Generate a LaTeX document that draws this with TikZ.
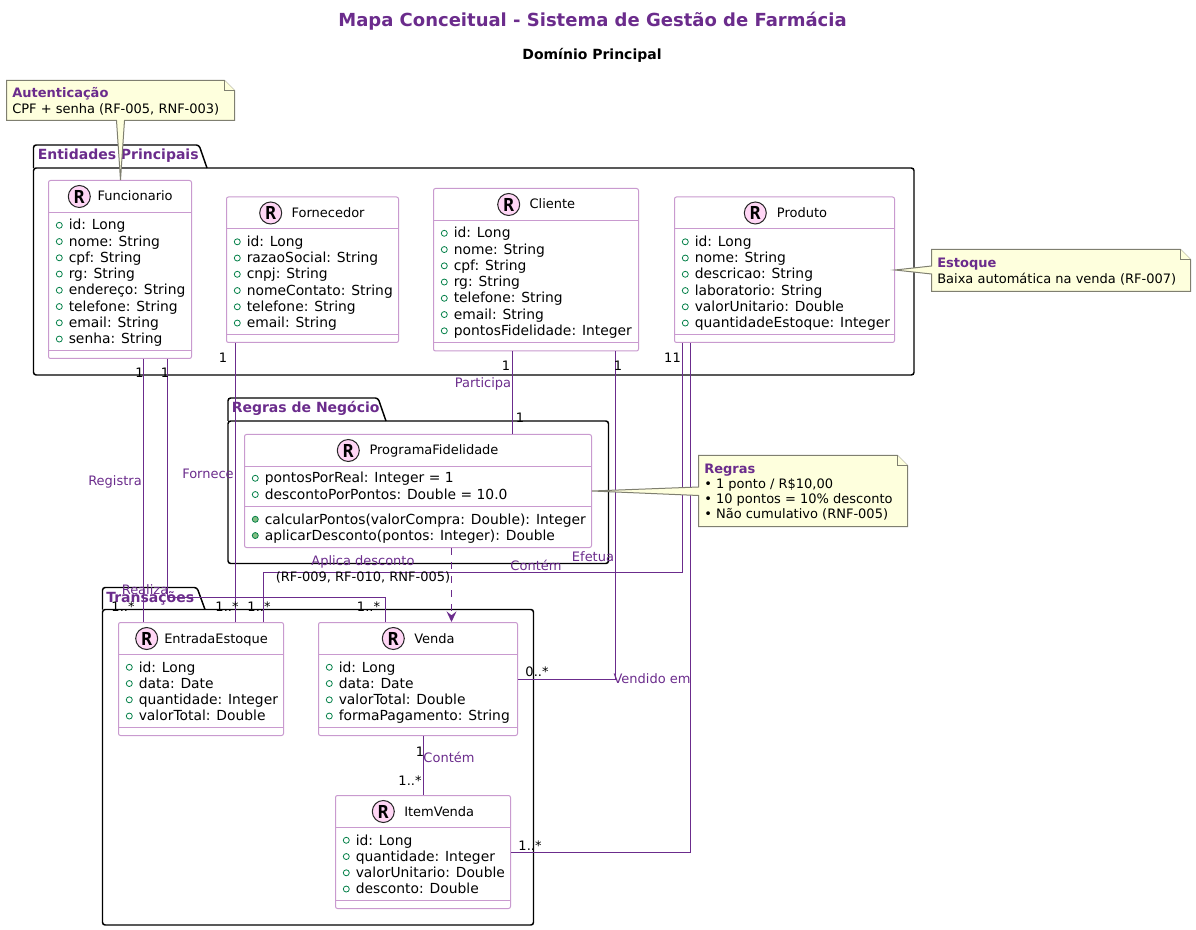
\documentclass[tikz,border=0pt]{standalone}
\usepackage{fontspec}
\setmainfont{DejaVu Sans}
\newfontfamily\iconfont{DejaVu Sans Mono}
\usetikzlibrary{arrows.meta,calc,fit}
\definecolor{umlpurple}{HTML}{6B2C8C}
\definecolor{umlborder}{HTML}{C99ACF}
\definecolor{umlpink}{HTML}{FFD6F5}
\definecolor{umlgreen}{HTML}{038048}
\definecolor{umlmethod}{HTML}{84BE84}
\definecolor{umlnote}{HTML}{FEFFDD}
\definecolor{umlnoteline}{HTML}{7F7F70}
\tikzset{
    classbox/.style={draw=umlborder,fill=white,line width=0.75pt,rounded corners=1.5pt,inner sep=0pt},
    classline/.style={draw=umlborder,line width=0.75pt},
    classicon/.style={circle,draw=black!85,fill=umlpink,line width=0.75pt,minimum size=16.5pt,inner sep=0pt,font=\fontsize{13.4}{13.4}\selectfont\iconfont\bfseries},
    classname/.style={anchor=base west,inner sep=0pt,font=\fontsize{9.75}{11}\selectfont},
    membertext/.style={anchor=base west,inner sep=0pt,font=\fontsize{10.4}{12}\selectfont},
    fieldicon/.style={circle,draw=umlgreen,fill=white,line width=0.6pt,minimum size=4.5pt,inner sep=0pt},
    methodicon/.style={circle,draw=umlgreen,fill=umlmethod,line width=0.6pt,minimum size=4.5pt,inner sep=0pt},
    pkgbox/.style={draw=black,line width=1.1pt,rounded corners=2pt,inner sep=0pt},
    pkgtab/.style={draw=black,line width=1.1pt,rounded corners=2pt},
    pkgname/.style={anchor=base west,inner sep=0pt,text=umlpurple,font=\fontsize{10.5}{12}\selectfont\bfseries},
    rel/.style={draw=umlpurple,line width=0.75pt},
    rellabel/.style={anchor=center,inner sep=0pt,text=umlpurple,font=\fontsize{9.75}{11}\selectfont},
    card/.style={anchor=base,inner sep=0pt,font=\fontsize{9.75}{11}\selectfont},
    noteline/.style={draw=umlnoteline,fill=umlnote,line width=0.75pt},
    notehead/.style={anchor=base west,inner sep=0pt,text=umlpurple,font=\fontsize{9.75}{11}\selectfont\bfseries},
    notetext/.style={anchor=base west,inner sep=0pt,font=\fontsize{9.75}{11}\selectfont},
}
% id, name, icon x, name x, left, top, right, bottom
\newcommand{\umlhead}[8]{%
    \node (#1) [classbox,fit={(#5,#6) (#7,#8)}] {};
    \node (#1-icon) [classicon] at (#3,{#6+16}) {R};
    \node (#1-name) [classname] at (#4,{#6+20.5}) {#2};
    \draw[classline] (#5,{#6+32}) -- (#7,{#6+32});
}
% id, left, first base line, icon style, members
\newcommand{\umlmembers}[5]{%
    \foreach \m [count=\i from 0] in {#5} {
        \pgfmathsetmacro{\ybase}{#3+\i*16.25}
        \node (#1-icon-#4-\i) [#4] at ({#2+10.8},\ybase-4.7) {};
        \node (#1-text-#4-\i) [membertext] at ({#2+20},\ybase) {\m};
    }
}
\begin{document}
\begin{tikzpicture}[x=0.75pt,y=-0.75pt]
\useasboundingbox (0,0) rectangle (1196,930);

\node (title) [inner sep=0pt,text=umlpurple,font=\fontsize{13.5}{16}\selectfont\bfseries] at (592.5,21) {Mapa Conceitual - Sistema de Gestão de Farmácia};
\node (subtitle) [inner sep=0pt,font=\fontsize{10.5}{12}\selectfont\bfseries] at (592,55) {Domínio Principal};

% packages
\node (pkgEntidades) [pkgbox,fit={(33.5,168) (914,375)}] {};
\draw[pkgtab] (33.5,168) -- (33.5,145) -- (199,145) -- (207,168);
\node (pkgEntidades-name) [pkgname] at (37.5,160) {Entidades Principais};
\node (pkgRegras) [pkgbox,fit={(228,421) (608.5,563.5)}] {};
\draw[pkgtab] (228,421) -- (228,398) -- (378,398) -- (386,421);
\node (pkgRegras-name) [pkgname] at (231.5,413) {Regras de Negócio};
\node (pkgTransacoes) [pkgbox,fit={(102.5,609.5) (533.5,925)}] {};
\draw[pkgtab] (102.5,609.5) -- (102.5,587.5) -- (197,587.5) -- (205,609.5);

% classes
\umlhead{funcionario}{Funcionario}{79.3}{97.3}{48.5}{180.5}{191.5}{358.5}
\umlmembers{funcionario}{48.5}{230}{fieldicon}{id: Long,nome: String,cpf: String,rg: String,endereço: String,telefone: String,email: String,senha: String}
\draw[classline] (48.5,351) -- (191.5,351);

\umlhead{fornecedor}{Fornecedor}{270.7}{291.3}{226.5}{197}{398.5}{342.5}
\umlmembers{fornecedor}{226.5}{246.5}{fieldicon}{id: Long,razaoSocial: String,cnpj: String,nomeContato: String,telefone: String,email: String}
\draw[classline] (226.5,334.5) -- (398.5,334.5);

\umlhead{cliente}{Cliente}{508.7}{529.3}{433.5}{188.5}{638.5}{351}
\umlmembers{cliente}{433.5}{238}{fieldicon}{id: Long,nome: String,cpf: String,rg: String,telefone: String,email: String,pontosFidelidade: Integer}
\draw[classline] (433.5,343) -- (638.5,343);

\umlhead{produto}{Produto}{755.3}{776.7}{674.5}{197}{894.5}{342.5}
\umlmembers{produto}{674.5}{246.5}{fieldicon}{id: Long,nome: String,descricao: String,laboratorio: String,valorUnitario: Double,quantidadeEstoque: Integer}
\draw[classline] (674.5,334.5) -- (894.5,334.5);

\umlhead{fidelidade}{ProgramaFidelidade}{348.3}{369.3}{244.5}{434.5}{591.5}{547.5}
\umlmembers{fidelidade}{244.5}{483}{fieldicon}{pontosPorReal: Integer = 1,descontoPorPontos: Double = 10.0}
\draw[classline] (244.5,506.5) -- (591.5,506.5);
\umlmembers{fidelidade}{244.5}{524}{methodicon}{calcularPontos(valorCompra: Double): Integer,aplicarDesconto(pontos: Integer): Double}

\umlhead{entrada}{EntradaEstoque}{146.7}{164}{118.5}{622.5}{283.5}{735.5}
\umlmembers{entrada}{118.5}{672}{fieldicon}{id: Long,data: Date,quantidade: Integer,valorTotal: Double}
\draw[classline] (118.5,727.5) -- (283.5,727.5);

\umlhead{venda}{Venda}{393.3}{414}{318.5}{622.5}{517.5}{735.5}
\umlmembers{venda}{318.5}{672}{fieldicon}{id: Long,data: Date,valorTotal: Double,formaPagamento: String}
\draw[classline] (318.5,727.5) -- (517.5,727.5);

\umlhead{item}{ItemVenda}{383.3}{404}{335.5}{795.5}{510.5}{908.5}
\umlmembers{item}{335.5}{845}{fieldicon}{id: Long,quantidade: Integer,valorUnitario: Double,desconto: Double}
\draw[classline] (335.5,900.5) -- (510.5,900.5);

% relations
\path[rel] (143,0 |- funcionario.south) edge (143,0 |- entrada.north)
           (235.5,0 |- fornecedor.south) edge (235.5,0 |- entrada.north)
           (512.5,0 |- cliente.south) edge (512.5,0 |- fidelidade.north)
           (423.5,0 |- venda.south) edge (423.5,0 |- item.north);
\draw[rel] (167.5,0 |- funcionario.south) -- (167.5,597.5) -- (385.5,597.5) -- (385.5,0 |- venda.north);
\draw[rel] (682.5,0 |- produto.south) -- (682.5,572.5) -- (263.5,572.5) -- (263.5,0 |- entrada.north);
\draw[rel] (690.5,0 |- produto.south) -- (690.5,852.5) -- (item.east |- 0,852.5);
\draw[rel] (615.5,0 |- cliente.south) -- (615.5,679.5) -- (venda.east |- 0,679.5);
\draw[rel,dash pattern=on 5.25pt off 5.25pt,-{Stealth[length=8pt,width=7.5pt,inset=3pt]}] (451.5,0 |- fidelidade.south) -- (451.5,0 |- venda.north);

\node (pkgTransacoes-name) [pkgname] at (106,602) {Transações};

% relation labels
\node (lblRegistra) [rellabel] at (115,482) {Registra};
\node (lblFornece) [rellabel] at (208,474) {Fornece};
\node (lblParticipa) [rellabel] at (483,384) {Participa};
\node (lblRealiza) [rellabel] at (145,590) {Realiza};
\node (lblAplica) [rellabel] at (363,562) {Aplica desconto};
\node (lblAplicaRef) [rellabel,text=black] at (363,577) {(RF-009, RF-010, RNF-005)};
\node (lblContem) [rellabel] at (536,565) {Contém};
\node (lblEfetua) [rellabel] at (593,557) {Efetua};
\node (lblVendido) [rellabel] at (652,679) {Vendido em};
\node (lblContemItem) [rellabel] at (449,757) {Contém};

% multiplicities
\node (cardFuncA) [card] at (139.5,378) {1};
\node (cardFuncB) [card] at (165,378) {1};
\node (cardFuncC) [card] at (123,611) {1..*};
\node (cardFornA) [card] at (223,363) {1};
\node (cardFornB) [card] at (227,611) {1..*};
\node (cardProdA) [card] at (672.5,363) {11};
\node (cardProdB) [card] at (259,611) {1..*};
\node (cardVenda) [card] at (368.5,611) {1..*};
\node (cardClienA) [card] at (506,371) {1};
\node (cardClienB) [card] at (618,371) {1};
\node (cardFidel) [card] at (520,423) {1};
\node (cardVendaB) [card] at (537,676) {0..*};
\node (cardVendaC) [card] at (420,756) {1};
\node (cardItemA) [card] at (410,785) {1..*};
\node (cardItemB) [card] at (530,850) {1..*};

% notes
\draw[noteline] (6.5,80.5) -- (224.5,80.5) -- (234.5,90.5) -- (234.5,120.5) -- (124.5,120.5) -- (120.5,0 |- funcionario.north) -- (116.5,120.5) -- (6.5,120.5) -- cycle;
\draw[noteline] (224.5,80.5) -- (224.5,90.5) -- (234.5,90.5);
\node (noteAuthHead) [notehead] at (12,98) {Autenticação};
\node (noteAuthText) [notetext] at (12,114) {CPF + senha (RF-005, RNF-003)};

\draw[noteline] (931.5,249.5) -- (1180.5,249.5) -- (1190.5,259.5) -- (1190.5,291.5) -- (931.5,291.5) -- (931.5,274) -- (produto.east |- 0,270) -- (931.5,266) -- cycle;
\draw[noteline] (1180.5,249.5) -- (1180.5,259.5) -- (1190.5,259.5);
\node (noteStockHead) [notehead] at (937,268) {Estoque};
\node (noteStockText) [notetext] at (937,284) {Baixa automática na venda (RF-007)};

\draw[noteline] (698.5,455.5) -- (897.5,455.5) -- (907.5,465.5) -- (907.5,526.5) -- (698.5,526.5) -- (698.5,495.5) -- (fidelidade.east |- 0,491) -- (698.5,487) -- cycle;
\draw[noteline] (897.5,455.5) -- (897.5,465.5) -- (907.5,465.5);
\node (noteRulesHead) [notehead] at (704,473.5) {Regras};
\node (noteRulesA) [notetext] at (704,488.5) {• 1 ponto / R\$10,00};
\node (noteRulesB) [notetext] at (704,503.5) {• 10 pontos = 10\% desconto};
\node (noteRulesC) [notetext] at (704,518.5) {• Não cumulativo (RNF-005)};
\end{tikzpicture}
\end{document}
